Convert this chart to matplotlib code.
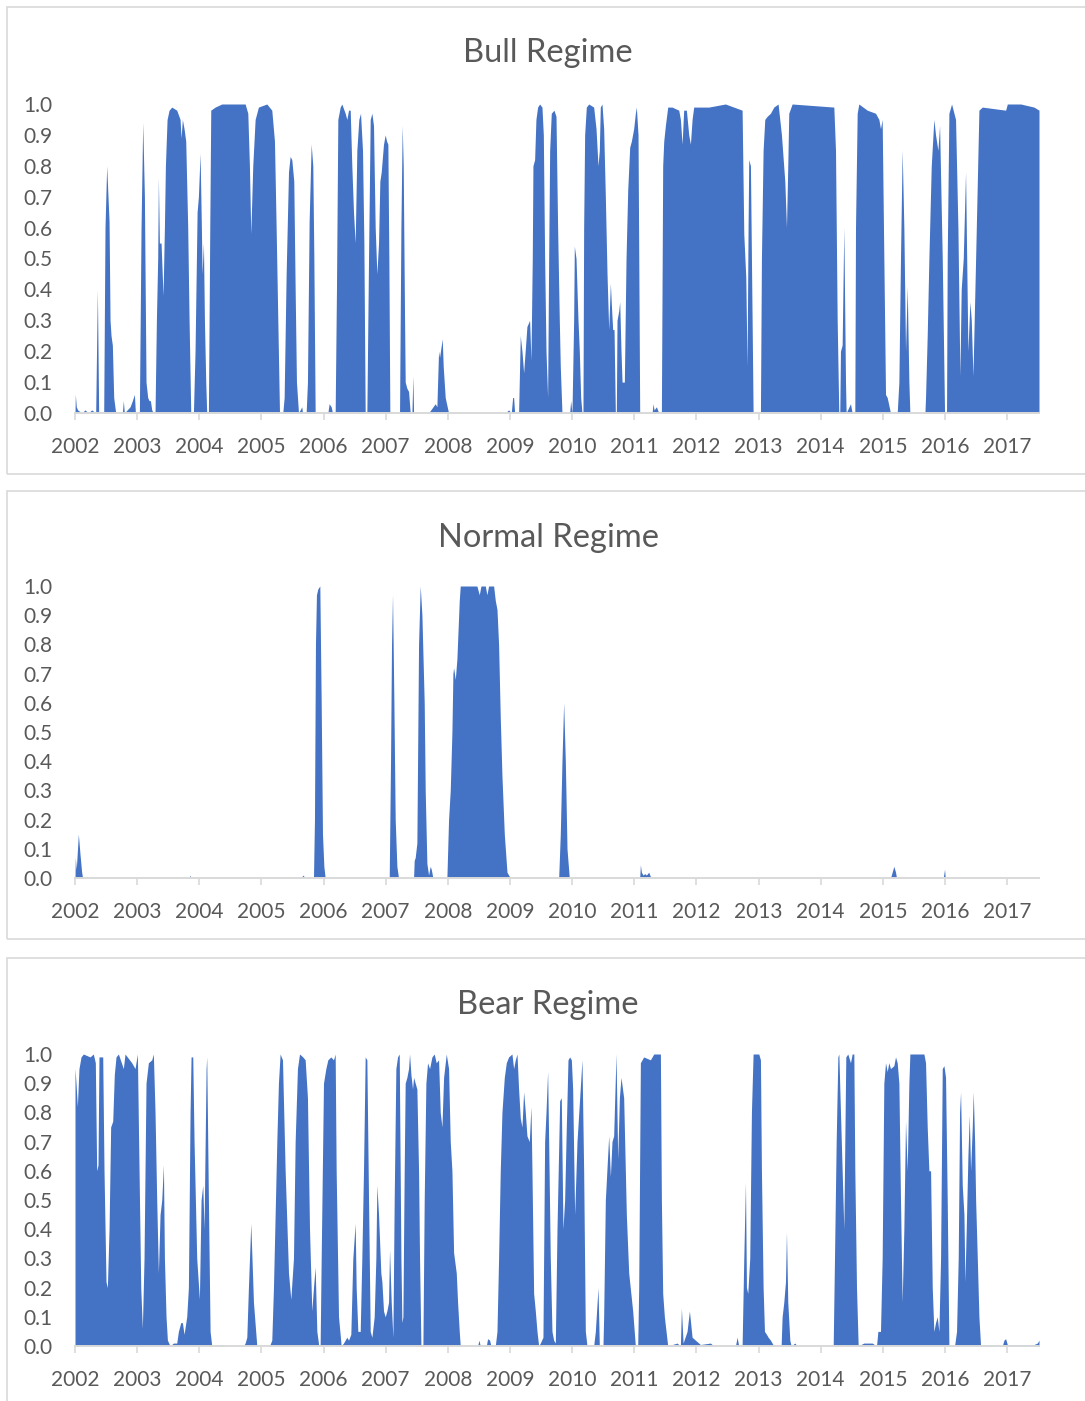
import matplotlib.pyplot as plt
from matplotlib.patches import Rectangle

plt.rcParams['font.family'] = ['Lato', 'DejaVu Sans']

# --- smoothed regime probabilities, time in decimal years ---
years = list(range(2002, 2018))
prob_ticks = [0.0, 0.1, 0.2, 0.3, 0.4, 0.5, 0.6, 0.7, 0.8, 0.9, 1.0]

bull_t = [2002.000, 2002.005, 2002.021, 2002.043, 2002.107, 2002.161, 2002.215, 2002.268, 2002.333,
          2002.360, 2002.381, 2002.462, 2002.483, 2002.510, 2002.531, 2002.548, 2002.564, 2002.580,
          2002.601, 2002.623, 2002.655, 2002.762, 2002.778, 2002.794, 2002.886, 2002.923, 2002.956,
          2002.972, 2003.036, 2003.063, 2003.090, 2003.117, 2003.143, 2003.170, 2003.192, 2003.213,
          2003.235, 2003.261, 2003.288, 2003.310, 2003.331, 2003.342, 2003.358, 2003.385, 2003.417,
          2003.439, 2003.455, 2003.482, 2003.514, 2003.557, 2003.637, 2003.691, 2003.707, 2003.728,
          2003.755, 2003.782, 2003.814, 2003.836, 2003.863, 2003.906, 2003.932, 2003.965, 2003.986,
          2004.013, 2004.034, 2004.045, 2004.067, 2004.083, 2004.104, 2004.120, 2004.147, 2004.169,
          2004.185, 2004.255, 2004.362, 2004.523, 2004.738, 2004.781, 2004.807, 2004.829, 2004.861,
          2004.899, 2004.952, 2005.087, 2005.167, 2005.210, 2005.237, 2005.264, 2005.291, 2005.344,
          2005.366, 2005.398, 2005.436, 2005.462, 2005.489, 2005.521, 2005.543, 2005.564, 2005.597,
          2005.650, 2005.661, 2005.720, 2005.741, 2005.768, 2005.801, 2005.827, 2005.844, 2005.865,
          2006.069, 2006.090, 2006.123, 2006.144, 2006.187, 2006.208, 2006.230, 2006.268, 2006.294,
          2006.348, 2006.375, 2006.402, 2006.429, 2006.455, 2006.482, 2006.509, 2006.536, 2006.568,
          2006.595, 2006.627, 2006.649, 2006.670, 2006.697, 2006.724, 2006.751, 2006.778, 2006.804,
          2006.831, 2006.858, 2006.885, 2006.906, 2006.928, 2006.965, 2006.992, 2007.014, 2007.035,
          2007.051, 2007.067, 2007.223, 2007.245, 2007.266, 2007.282, 2007.304, 2007.314, 2007.341,
          2007.368, 2007.395, 2007.422, 2007.438, 2007.449, 2007.690, 2007.797, 2007.824, 2007.851,
          2007.867, 2007.910, 2007.926, 2007.958, 2008.012, 2008.925, 2008.978, 2009.021, 2009.043,
          2009.059, 2009.075, 2009.139, 2009.166, 2009.193, 2009.220, 2009.273, 2009.316, 2009.338,
          2009.359, 2009.370, 2009.397, 2009.418, 2009.445, 2009.477, 2009.515, 2009.537, 2009.558,
          2009.580, 2009.606, 2009.623, 2009.639, 2009.665, 2009.708, 2009.741, 2009.767, 2009.794,
          2009.810, 2009.837, 2009.961, 2009.977, 2009.998, 2010.025, 2010.036, 2010.063, 2010.095,
          2010.116, 2010.138, 2010.159, 2010.175, 2010.186, 2010.202, 2010.229, 2010.267, 2010.347,
          2010.385, 2010.417, 2010.438, 2010.454, 2010.481, 2010.508, 2010.535, 2010.562, 2010.589,
          2010.616, 2010.632, 2010.653, 2010.675, 2010.696, 2010.712, 2010.723, 2010.750, 2010.766,
          2010.787, 2010.804, 2010.841, 2010.868, 2010.895, 2010.927, 2010.954, 2010.991, 2011.018,
          2011.034, 2011.061, 2011.088, 2011.287, 2011.303, 2011.319, 2011.357, 2011.394, 2011.437,
          2011.458, 2011.475, 2011.501, 2011.539, 2011.609, 2011.716, 2011.743, 2011.770, 2011.796,
          2011.839, 2011.877, 2011.904, 2011.931, 2011.957, 2012.199, 2012.467, 2012.736, 2012.763,
          2012.795, 2012.816, 2012.832, 2012.843, 2012.870, 2012.897, 2012.913, 2013.031, 2013.047,
          2013.074, 2013.101, 2013.138, 2013.192, 2013.246, 2013.315, 2013.369, 2013.423, 2013.450,
          2013.471, 2013.487, 2013.541, 2014.212, 2014.239, 2014.266, 2014.292, 2014.308, 2014.319,
          2014.346, 2014.373, 2014.400, 2014.410, 2014.480, 2014.507, 2014.550, 2014.561, 2014.588,
          2014.614, 2014.749, 2014.883, 2014.937, 2014.963, 2014.990, 2015.017, 2015.044, 2015.071,
          2015.124, 2015.232, 2015.259, 2015.285, 2015.312, 2015.339, 2015.366, 2015.393, 2015.420,
          2015.436, 2015.678, 2015.688, 2015.715, 2015.742, 2015.780, 2015.822, 2015.849, 2015.887,
          2015.914, 2015.957, 2015.994, 2016.026, 2016.037, 2016.064, 2016.107, 2016.171, 2016.209,
          2016.241, 2016.262, 2016.295, 2016.332, 2016.370, 2016.402, 2016.424, 2016.451, 2016.494,
          2016.547, 2016.601, 2016.977, 2017.004, 2017.219, 2017.433, 2017.514]
bull_p = [0.00, 0.06, 0.02, 0.01, 0.00, 0.01, 0.00, 0.01, 0.00,
          0.40, 0.00, 0.00, 0.60, 0.80, 0.70, 0.62, 0.30, 0.25,
          0.22, 0.05, 0.00, 0.00, 0.04, 0.00, 0.02, 0.04, 0.06,
          0.00, 0.00, 0.60, 0.94, 0.70, 0.10, 0.05, 0.04, 0.04,
          0.01, 0.00, 0.00, 0.30, 0.50, 0.76, 0.55, 0.55, 0.38,
          0.60, 0.80, 0.95, 0.98, 0.99, 0.98, 0.95, 0.89, 0.95,
          0.92, 0.88, 0.60, 0.30, 0.00, 0.00, 0.20, 0.65, 0.70,
          0.84, 0.60, 0.45, 0.55, 0.30, 0.10, 0.00, 0.00, 0.60,
          0.98, 0.99, 1.00, 1.00, 1.00, 0.97, 0.80, 0.58, 0.80,
          0.95, 0.99, 1.00, 0.98, 0.88, 0.60, 0.30, 0.00, 0.00,
          0.05, 0.45, 0.78, 0.83, 0.82, 0.75, 0.40, 0.10, 0.00,
          0.02, 0.00, 0.00, 0.10, 0.62, 0.87, 0.80, 0.50, 0.00,
          0.00, 0.03, 0.02, 0.00, 0.00, 0.40, 0.95, 0.99, 1.00,
          0.97, 0.95, 0.98, 0.98, 0.80, 0.65, 0.55, 0.85, 0.95,
          0.97, 0.85, 0.55, 0.00, 0.00, 0.50, 0.95, 0.97, 0.93,
          0.60, 0.45, 0.55, 0.75, 0.78, 0.87, 0.90, 0.88, 0.87,
          0.50, 0.00, 0.00, 0.60, 0.93, 0.80, 0.30, 0.10, 0.08,
          0.07, 0.00, 0.00, 0.12, 0.00, 0.00, 0.03, 0.02, 0.20,
          0.18, 0.24, 0.15, 0.05, 0.00, 0.00, 0.01, 0.00, 0.05,
          0.05, 0.00, 0.00, 0.25, 0.20, 0.13, 0.28, 0.30, 0.17,
          0.50, 0.80, 0.82, 0.95, 0.99, 1.00, 0.99, 0.90, 0.50,
          0.20, 0.05, 0.50, 0.85, 0.97, 0.98, 0.96, 0.60, 0.30,
          0.15, 0.00, 0.00, 0.04, 0.00, 0.30, 0.54, 0.50, 0.30,
          0.20, 0.05, 0.00, 0.00, 0.60, 0.90, 0.99, 1.00, 0.99,
          0.92, 0.80, 0.85, 0.99, 1.00, 0.92, 0.70, 0.45, 0.27,
          0.42, 0.35, 0.27, 0.27, 0.00, 0.00, 0.30, 0.33, 0.36,
          0.20, 0.10, 0.10, 0.50, 0.72, 0.86, 0.88, 0.92, 0.97,
          0.99, 0.90, 0.00, 0.00, 0.03, 0.01, 0.02, 0.00, 0.00,
          0.80, 0.88, 0.93, 0.99, 0.99, 0.98, 0.95, 0.87, 0.98,
          0.98, 0.90, 0.87, 0.95, 0.99, 0.99, 1.00, 0.98, 0.58,
          0.44, 0.15, 0.60, 0.82, 0.80, 0.30, 0.00, 0.00, 0.50,
          0.85, 0.95, 0.96, 0.97, 0.99, 1.00, 0.90, 0.75, 0.60,
          0.80, 0.97, 1.00, 0.99, 0.85, 0.30, 0.00, 0.00, 0.20,
          0.22, 0.60, 0.10, 0.00, 0.03, 0.00, 0.00, 0.60, 0.97,
          1.00, 0.98, 0.97, 0.95, 0.92, 0.95, 0.50, 0.06, 0.05,
          0.00, 0.00, 0.10, 0.50, 0.85, 0.60, 0.20, 0.41, 0.10,
          0.00, 0.00, 0.05, 0.25, 0.50, 0.80, 0.95, 0.90, 0.85,
          0.93, 0.50, 0.00, 0.00, 0.50, 0.97, 1.00, 0.95, 0.60,
          0.12, 0.40, 0.50, 0.78, 0.20, 0.36, 0.30, 0.12, 0.50,
          0.98, 0.99, 0.98, 1.00, 1.00, 0.99, 0.98]

normal_t = [2002.000, 2002.005, 2002.021, 2002.054, 2002.081, 2002.107, 2002.123, 2003.841, 2003.852,
            2003.868, 2005.597, 2005.650, 2005.677, 2005.688, 2005.838, 2005.854, 2005.870, 2005.886,
            2005.908, 2005.940, 2005.962, 2005.983, 2006.005, 2006.026, 2007.057, 2007.078, 2007.094,
            2007.110, 2007.132, 2007.153, 2007.180, 2007.207, 2007.449, 2007.459, 2007.475, 2007.502,
            2007.529, 2007.556, 2007.583, 2007.620, 2007.636, 2007.663, 2007.690, 2007.717, 2007.733,
            2007.760, 2007.985, 2008.012, 2008.039, 2008.066, 2008.082, 2008.093, 2008.120, 2008.146,
            2008.184, 2008.200, 2008.468, 2008.506, 2008.533, 2008.603, 2008.629, 2008.656, 2008.737,
            2008.764, 2008.791, 2008.817, 2008.844, 2008.871, 2008.909, 2008.952, 2009.005, 2009.784,
            2009.810, 2009.837, 2009.864, 2009.891, 2009.918, 2009.955, 2011.088, 2011.099, 2011.115,
            2011.142, 2011.169, 2011.195, 2011.233, 2011.260, 2011.271, 2015.124, 2015.151, 2015.178,
            2015.205, 2015.221, 2015.973, 2015.994, 2016.005, 2017.514]
normal_p = [0.00, 0.07, 0.03, 0.15, 0.08, 0.02, 0.00, 0.00, 0.01,
            0.00, 0.00, 0.005, 0.01, 0.00, 0.00, 0.20, 0.80, 0.97,
            0.99, 1.00, 0.60, 0.15, 0.04, 0.00, 0.00, 0.40, 0.80,
            0.97, 0.60, 0.20, 0.04, 0.00, 0.00, 0.06, 0.07, 0.12,
            0.80, 1.00, 0.90, 0.60, 0.30, 0.05, 0.01, 0.04, 0.03,
            0.00, 0.00, 0.20, 0.30, 0.50, 0.70, 0.72, 0.68, 0.75,
            0.95, 1.00, 1.00, 0.97, 1.00, 1.00, 0.97, 1.00, 1.00,
            0.95, 0.92, 0.80, 0.55, 0.35, 0.15, 0.02, 0.00, 0.00,
            0.15, 0.40, 0.60, 0.40, 0.10, 0.00, 0.00, 0.045, 0.02,
            0.01, 0.015, 0.01, 0.02, 0.005, 0.00, 0.00, 0.02, 0.04,
            0.02, 0.00, 0.00, 0.03, 0.00, 0.00]

bear_t = [2002.000, 2002.016, 2002.038, 2002.064, 2002.097, 2002.134, 2002.242, 2002.295, 2002.327,
          2002.349, 2002.370, 2002.386, 2002.446, 2002.467, 2002.499, 2002.521, 2002.548, 2002.574,
          2002.607, 2002.633, 2002.660, 2002.698, 2002.778, 2002.805, 2002.913, 2002.966, 2003.004,
          2003.031, 2003.058, 2003.084, 2003.111, 2003.143, 2003.181, 2003.235, 2003.261, 2003.288,
          2003.315, 2003.342, 2003.369, 2003.396, 2003.423, 2003.439, 2003.465, 2003.487, 2003.530,
          2003.584, 2003.637, 2003.664, 2003.702, 2003.728, 2003.755, 2003.798, 2003.825, 2003.852,
          2003.868, 2003.895, 2003.916, 2003.959, 2004.002, 2004.029, 2004.056, 2004.077, 2004.110,
          2004.120, 2004.147, 2004.174, 2004.201, 2004.335, 2004.442, 2004.711, 2004.738, 2004.765,
          2004.791, 2004.829, 2004.872, 2004.926, 2005.130, 2005.167, 2005.194, 2005.248, 2005.274,
          2005.301, 2005.339, 2005.382, 2005.436, 2005.473, 2005.516, 2005.543, 2005.580, 2005.613,
          2005.666, 2005.704, 2005.741, 2005.774, 2005.811, 2005.838, 2005.865, 2005.892, 2005.924,
          2005.945, 2005.962, 2005.999, 2006.037, 2006.069, 2006.117, 2006.160, 2006.187, 2006.203,
          2006.241, 2006.284, 2006.321, 2006.375, 2006.402, 2006.439, 2006.471, 2006.509, 2006.525,
          2006.552, 2006.590, 2006.616, 2006.643, 2006.670, 2006.697, 2006.724, 2006.751, 2006.778,
          2006.815, 2006.842, 2006.858, 2006.885, 2006.922, 2006.939, 2006.965, 2006.992, 2007.019,
          2007.046, 2007.062, 2007.089, 2007.116, 2007.137, 2007.164, 2007.191, 2007.218, 2007.245,
          2007.261, 2007.277, 2007.298, 2007.314, 2007.341, 2007.368, 2007.384, 2007.406, 2007.432,
          2007.449, 2007.475, 2007.502, 2007.529, 2007.545, 2007.567, 2007.599, 2007.620, 2007.647,
          2007.674, 2007.706, 2007.744, 2007.781, 2007.813, 2007.851, 2007.878, 2007.905, 2007.932,
          2007.975, 2008.012, 2008.039, 2008.066, 2008.093, 2008.136, 2008.157, 2008.184, 2008.200,
          2008.479, 2008.501, 2008.522, 2008.619, 2008.640, 2008.672, 2008.694, 2008.764, 2008.791,
          2008.817, 2008.844, 2008.871, 2008.909, 2008.941, 2008.978, 2009.032, 2009.059, 2009.086,
          2009.113, 2009.139, 2009.166, 2009.193, 2009.220, 2009.247, 2009.273, 2009.311, 2009.338,
          2009.354, 2009.381, 2009.408, 2009.435, 2009.462, 2009.488, 2009.531, 2009.558, 2009.580,
          2009.606, 2009.623, 2009.649, 2009.676, 2009.703, 2009.730, 2009.757, 2009.800, 2009.826,
          2009.853, 2009.880, 2009.907, 2009.934, 2009.961, 2009.988, 2010.009, 2010.041, 2010.079,
          2010.122, 2010.159, 2010.186, 2010.213, 2010.240, 2010.347, 2010.374, 2010.417, 2010.438,
          2010.497, 2010.508, 2010.535, 2010.589, 2010.616, 2010.642, 2010.669, 2010.707, 2010.734,
          2010.761, 2010.787, 2010.830, 2010.873, 2010.911, 2010.975, 2011.018, 2011.056, 2011.072,
          2011.099, 2011.152, 2011.260, 2011.314, 2011.421, 2011.437, 2011.458, 2011.485, 2011.512,
          2011.539, 2011.689, 2011.743, 2011.759, 2011.786, 2011.850, 2011.888, 2011.931, 2011.984,
          2012.065, 2012.226, 2012.280, 2012.629, 2012.655, 2012.682, 2012.736, 2012.763, 2012.790,
          2012.806, 2012.827, 2012.859, 2012.886, 2012.913, 2013.004, 2013.031, 2013.047, 2013.074,
          2013.096, 2013.128, 2013.155, 2013.192, 2013.246, 2013.364, 2013.380, 2013.407, 2013.434,
          2013.450, 2013.471, 2013.504, 2013.525, 2013.584, 2013.622, 2014.202, 2014.223, 2014.250,
          2014.277, 2014.293, 2014.319, 2014.346, 2014.373, 2014.389, 2014.405, 2014.437, 2014.480,
          2014.507, 2014.534, 2014.550, 2014.577, 2014.604, 2014.695, 2014.830, 2014.899, 2014.921,
          2014.963, 2014.990, 2015.017, 2015.044, 2015.071, 2015.097, 2015.124, 2015.178, 2015.205,
          2015.232, 2015.259, 2015.285, 2015.312, 2015.339, 2015.366, 2015.393, 2015.420, 2015.436,
          2015.662, 2015.688, 2015.715, 2015.742, 2015.769, 2015.796, 2015.822, 2015.849, 2015.876,
          2015.903, 2015.930, 2015.957, 2015.984, 2016.010, 2016.037, 2016.064, 2016.155, 2016.187,
          2016.214, 2016.236, 2016.252, 2016.279, 2016.306, 2016.322, 2016.343, 2016.370, 2016.392,
          2016.413, 2016.440, 2016.456, 2016.478, 2016.494, 2016.521, 2016.547, 2016.574, 2016.681,
          2016.923, 2016.950, 2016.977, 2017.004, 2017.433, 2017.487, 2017.514]
bear_p = [0.95, 0.90, 0.82, 0.95, 0.99, 1.00, 0.99, 1.00, 0.97,
          0.60, 0.62, 0.99, 0.99, 0.60, 0.22, 0.20, 0.40, 0.75,
          0.77, 0.93, 0.99, 1.00, 0.95, 1.00, 0.97, 0.95, 1.00,
          0.60, 0.20, 0.06, 0.30, 0.90, 0.97, 0.98, 1.00, 0.80,
          0.50, 0.25, 0.45, 0.50, 0.62, 0.30, 0.10, 0.02, 0.00,
          0.01, 0.01, 0.05, 0.08, 0.08, 0.04, 0.10, 0.20, 0.80,
          0.99, 0.99, 0.70, 0.30, 0.16, 0.50, 0.55, 0.40, 0.95,
          0.99, 0.50, 0.05, 0.00, 0.005, 0.00, 0.00, 0.01, 0.03,
          0.20, 0.42, 0.15, 0.00, 0.00, 0.02, 0.20, 0.70, 0.90,
          1.00, 0.98, 0.60, 0.25, 0.16, 0.30, 0.70, 0.95, 1.00,
          0.99, 0.98, 0.85, 0.40, 0.12, 0.20, 0.27, 0.05, 0.00,
          0.00, 0.30, 0.90, 0.95, 0.98, 0.99, 0.98, 1.00, 0.60,
          0.10, 0.00, 0.01, 0.03, 0.02, 0.04, 0.30, 0.42, 0.20,
          0.05, 0.05, 0.30, 0.60, 0.99, 0.98, 0.50, 0.05, 0.03,
          0.10, 0.30, 0.55, 0.45, 0.25, 0.22, 0.12, 0.10, 0.12,
          0.15, 0.33, 0.15, 0.03, 0.50, 0.95, 0.99, 1.00, 0.30,
          0.08, 0.10, 0.60, 0.90, 0.92, 0.95, 1.00, 0.93, 0.88,
          0.92, 0.90, 0.88, 0.60, 0.30, 0.00, 0.00, 0.50, 0.90,
          0.97, 0.95, 0.99, 1.00, 0.97, 0.98, 0.80, 0.75, 0.92,
          1.00, 0.95, 0.70, 0.60, 0.32, 0.25, 0.15, 0.05, 0.00,
          0.00, 0.02, 0.00, 0.00, 0.025, 0.02, 0.00, 0.00, 0.05,
          0.30, 0.60, 0.80, 0.92, 0.97, 0.99, 1.00, 0.95, 0.98,
          1.00, 0.88, 0.78, 0.75, 0.87, 0.80, 0.72, 0.70, 0.82,
          0.60, 0.18, 0.12, 0.05, 0.00, 0.01, 0.03, 0.70, 0.80,
          0.94, 0.70, 0.30, 0.05, 0.02, 0.01, 0.40, 0.84, 0.85,
          0.40, 0.50, 0.75, 0.98, 0.99, 0.98, 0.88, 0.45, 0.70,
          0.85, 0.98, 0.60, 0.05, 0.00, 0.00, 0.05, 0.20, 0.00,
          0.00, 0.10, 0.50, 0.72, 0.58, 0.70, 0.72, 1.00, 0.64,
          0.85, 0.92, 0.85, 0.45, 0.25, 0.12, 0.00, 0.00, 0.20,
          0.97, 0.99, 0.98, 1.00, 1.00, 0.50, 0.18, 0.10, 0.05,
          0.00, 0.01, 0.00, 0.13, 0.01, 0.05, 0.12, 0.03, 0.02,
          0.005, 0.01, 0.00, 0.00, 0.03, 0.00, 0.00, 0.30, 0.56,
          0.20, 0.18, 0.30, 0.80, 1.00, 1.00, 0.98, 0.60, 0.20,
          0.05, 0.04, 0.03, 0.02, 0.00, 0.00, 0.10, 0.15, 0.22,
          0.39, 0.15, 0.02, 0.00, 0.01, 0.00, 0.00, 0.30, 0.70,
          0.99, 1.00, 0.80, 0.60, 0.40, 0.70, 0.99, 1.00, 0.97,
          1.00, 1.00, 0.60, 0.20, 0.00, 0.01, 0.01, 0.00, 0.05,
          0.05, 0.30, 0.90, 0.97, 0.94, 0.97, 0.95, 0.96, 0.99,
          0.97, 0.90, 0.50, 0.15, 0.40, 0.77, 0.60, 0.90, 1.00,
          1.00, 0.97, 0.75, 0.60, 0.60, 0.20, 0.05, 0.08, 0.10,
          0.05, 0.30, 0.95, 0.96, 0.92, 0.50, 0.00, 0.00, 0.05,
          0.30, 0.80, 0.87, 0.55, 0.45, 0.22, 0.40, 0.65, 0.79,
          0.60, 0.75, 0.87, 0.70, 0.50, 0.30, 0.10, 0.00, 0.005,
          0.00, 0.02, 0.025, 0.005, 0.005, 0.01, 0.02]

BLUE = '#4472C4'
TEXT = '#595959'
RULE = '#D9D9D9'

W, H = 1085, 1401
fig = plt.figure(figsize=(W / 100, H / 100), dpi=100)

# title, times, probs, plot top/bottom px, frame top/bottom px, title baseline px
panels = [
    ('Bull Regime', bull_t, bull_p, 104, 413, 7, 474, 62),
    ('Normal Regime', normal_t, normal_p, 586, 878, 491, 939, 547),
    ('Bear Regime', bear_t, bear_p, 1054, 1346, 958, 1460, 1014),
]

for title, t, p, top, bot, box_top, box_bot, title_y in panels:
    # light chart-area frame
    fig.patches.append(Rectangle((7 / W, 1 - box_bot / H), 1.2, (box_bot - box_top) / H,
                                 transform=fig.transFigure, fill=False,
                                 edgecolor=RULE, linewidth=1.2))

    ax = fig.add_axes([75 / W, 1 - bot / H, (1039 - 75) / W, (bot - top) / H])
    ax.fill_between(t, p, 0, color=BLUE, linewidth=0)
    ax.set_xlim(2002, t[-1])
    ax.set_ylim(0, 1)

    ax.set_xticks(years)
    ax.set_xticklabels([str(y) for y in years])
    ax.set_yticks(prob_ticks)
    ax.set_yticklabels([f'{v:.1f}' for v in prob_ticks])

    for side in ['top', 'right', 'left']:
        ax.spines[side].set_visible(False)
    ax.spines['bottom'].set_color(RULE)
    ax.spines['bottom'].set_linewidth(1.4)
    ax.tick_params(axis='x', length=5, width=1.2, color=RULE, labelcolor=TEXT,
                   labelsize=15, pad=12)
    ax.tick_params(axis='y', length=0, labelcolor=TEXT, labelsize=15, pad=16)

    fig.text(548 / W, 1 - title_y / H, title, ha='center', va='baseline',
             fontsize=23.5, color=TEXT)

fig.savefig('out.png', dpi=100)
